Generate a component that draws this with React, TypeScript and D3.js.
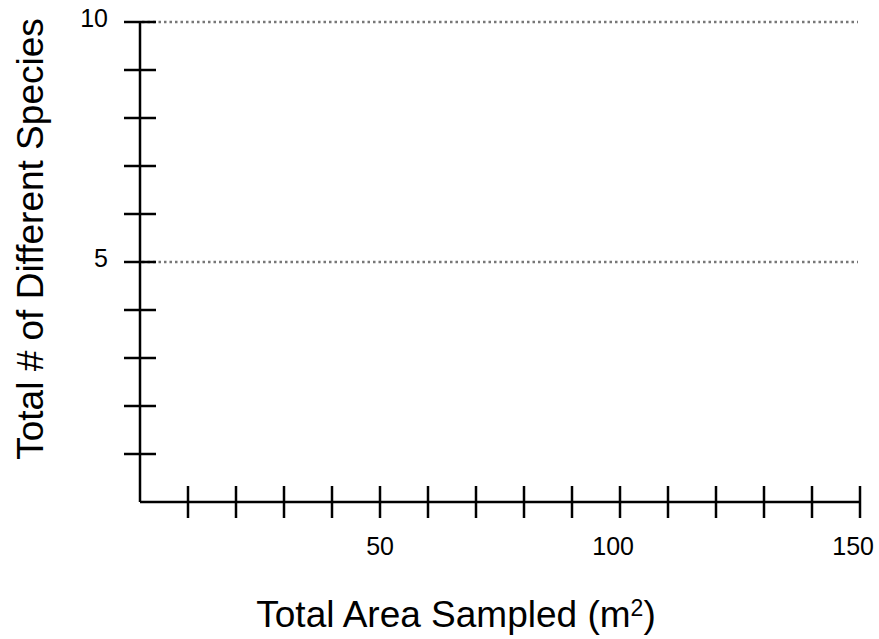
import React from "react";
import * as d3 from "d3";

const xTicks = [10, 20, 30, 40, 50, 60, 70, 80, 90, 100, 110, 120, 130, 140, 150];
const yTicks = [1, 2, 3, 4, 5, 6, 7, 8, 9, 10];
const xLabels = [50, 100, 150];
const yLabels = [5, 10];
const gridLines = [5, 10];

export default function App() {
  const width = 879;
  const height = 639;
  const x = d3.scaleLinear().domain([0, 150]).range([140, 860]);
  const y = d3.scaleLinear().domain([0, 10]).range([502, 22]);
  const font = "'Liberation Sans', Arial, sans-serif";
  const tick = 16;

  return (
    <svg
      width={width}
      height={height}
      style={{ position: "absolute", left: 0, top: 0, background: "#fff" }}
      fontFamily={font}
    >
      {gridLines.map(v => (
        <line
          key={"g" + v}
          x1={x(0) + 2}
          x2={x(150) - 2}
          y1={y(v)}
          y2={y(v)}
          stroke="#777"
          strokeWidth={2.5}
          strokeDasharray="2.5,3"
        />
      ))}

      {/* axes */}
      <line x1={x(0)} x2={x(0)} y1={y(10)} y2={y(0)} stroke="#000" strokeWidth={2.5} />
      <line x1={x(0)} x2={x(150)} y1={y(0)} y2={y(0)} stroke="#000" strokeWidth={2.5} />

      {yTicks.map(v => (
        <line key={"yt" + v} x1={x(0) - tick} x2={x(0) + tick} y1={y(v)} y2={y(v)} stroke="#000" strokeWidth={2.5} />
      ))}
      {xTicks.map(v => (
        <line key={"xt" + v} x1={x(v)} x2={x(v)} y1={y(0) - tick} y2={y(0) + tick} stroke="#000" strokeWidth={2.5} />
      ))}

      {yLabels.map(v => (
        <text key={"yl" + v} x={108} y={y(v) + 4.5} textAnchor="end" fontSize={25} fill="#000">
          {v}
        </text>
      ))}
      {xLabels.map(v => (
        <text key={"xl" + v} x={x(v) + 14} y={555} textAnchor="end" fontSize={25} fill="#000">
          {v}
        </text>
      ))}

      <text
        transform={`translate(43, 239) rotate(-90)`}
        textAnchor="middle"
        fontSize={37}
        fill="#000"
      >
        Total # of Different Species
      </text>

      <text x={456} y={627} textAnchor="middle" fontSize={37} fill="#000">
        Total Area Sampled (m
        <tspan fontSize={23} dy={-11}>2</tspan>
        <tspan dy={11}>)</tspan>
      </text>
    </svg>
  );
}
